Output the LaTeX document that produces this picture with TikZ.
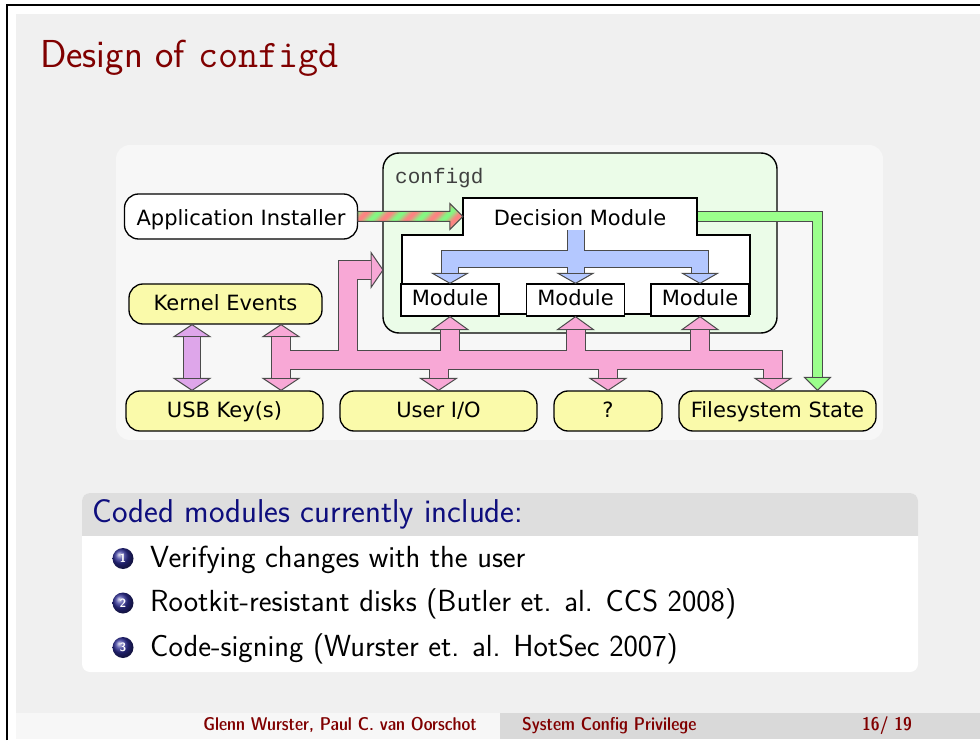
\documentclass[tikz,border=0pt]{standalone}
\usepackage{fontspec}
\newfontfamily\dejavu{DejaVu Sans}
\newfontfamily\cmono{Liberation Mono}
\newfontfamily\footfont{lmsansdemicond10-regular.otf}

\definecolor{slidebg}{RGB}{240,240,240}
\definecolor{footlight}{RGB}{247,247,247}
\definecolor{footdark}{RGB}{217,217,217}
\definecolor{titlered}{RGB}{128,0,0}
\definecolor{blocktitlebg}{RGB}{222,222,222}
\definecolor{blockblue}{RGB}{14,14,125}
\definecolor{ballblue}{RGB}{45,45,150}
\definecolor{diagbg}{RGB}{247,247,247}
\definecolor{cfgfill}{RGB}{235,252,232}
\definecolor{boxyellow}{RGB}{250,250,170}
\definecolor{pinkfat}{RGB}{248,168,214}
\definecolor{bluefat}{RGB}{180,200,255}
\definecolor{purplefat}{RGB}{222,166,234}
\definecolor{greenfat}{RGB}{155,255,140}
\definecolor{stripered}{RGB}{255,130,130}
\definecolor{stripegreen}{RGB}{130,250,130}
\definecolor{fatedge}{RGB}{75,75,75}

\newcommand\fathead[5]{\draw[tipedge, fill=#5, shift={#1}, rotate=#2] (0,0) -- (-#4,#3) -- (-#4,-#3) -- cycle;}

\newcommand\pinknet[1]{%
  \draw[#1, shorten <=12pt, shorten >=12pt] (kernel.south -| kb) -- (usb.north -| kb);
  \draw[#1, shorten >=12pt] (kb) -- (fb) -- (fs.north -| fb);
  \draw[#1, shorten >=12pt] (cb) |- (cfgin);
  \foreach \m in {m1,m2,m3} \draw[#1, shorten >=13pt] (\m.south |- kb) -- (\m.south);
  \foreach \n in {userio,unknown} \draw[#1, shorten >=12pt] (\n.north |- kb) -- (\n.north);
}
\newcommand\bluenet[1]{%
  \draw[#1, shorten >=10pt] (bt) -- (m2.north);
  \draw[#1, shorten <=10pt, shorten >=10pt] (m1.north) |- (bb) -| (m3.north);
}

\begin{document}
\begin{tikzpicture}[x=1pt, y=-1pt]
\tikzstyle{comp} = [rectangle, rounded corners=14pt, draw=black, line width=1.3pt, fill=boxyellow, minimum height=40pt, inner sep=0pt, text height=16pt, text depth=3pt, font=\dejavu\fontsize{21}{25}\selectfont]
\tikzstyle{module} = [rectangle, draw=black, line width=1.3pt, fill=white, minimum width=98pt, minimum height=32pt, inner sep=0pt, text height=16pt, text depth=4pt, font=\dejavu\fontsize{21}{25}\selectfont]
\tikzstyle{cfgbox} = [rectangle, rounded corners=16pt, draw=black, line width=1.4pt, fill=cfgfill, inner sep=0pt]
\tikzstyle{tipedge} = [draw=fatedge, line width=1pt, line join=miter]
\tikzstyle{footer} = [inner sep=0pt, text=titlered, font=\footfont\fontsize{18.5}{18.5}\selectfont]

\useasboundingbox (0,0) rectangle (980,743);
\fill[white] (0,0) rectangle (980,743);
\draw[line width=1.2pt] (7,740) -- (7,5) -- (980,5);
\fill[slidebg] (16,14) rectangle (980,713);
\fill[footlight] (16,713) rectangle (500,739);
\fill[footdark] (500,713) rectangle (980,739);

\node[anchor=base west, inner sep=0pt, text=titlered, font=\sffamily\fontsize{39}{42}\selectfont] (title) at (40,68) {Design of \texttt{configd}};

\fill[white, rounded corners=8pt] (82,493) rectangle (918,672);
\begin{scope}
  \clip (82,493) rectangle (918,535);
  \fill[blocktitlebg, rounded corners=8pt] (82,493) rectangle (918,672);
\end{scope}
\node[anchor=base west, inner sep=0pt, text=blockblue, font=\sffamily\fontsize{33}{36}\selectfont] (blocktitle) at (92,522) {Coded modules currently include:};
\foreach \i/\y/\txt in {1/567/{Verifying changes with the user}, 2/611.5/{Rootkit-resistant disks (Butler et. al. CCS 2008)}, 3/656/{Code-signing (Wurster et. al. HotSec 2007)}} {
  \shade[ball color=ballblue] (123,\y-8.5) circle (10.5pt);
  \node[white, inner sep=0pt, font=\sffamily\bfseries\fontsize{12}{12}\selectfont] (ball\i) at (123,\y-8.5) {\i};
  \node[anchor=base west, inner sep=0pt, font=\sffamily\fontsize{30.5}{34}\selectfont] (item\i) at (150,\y) {\txt};
}

\node[footer, anchor=base east] (authors) at (477,730) {Glenn Wurster, Paul C. van Oorschot};
\node[footer, anchor=base west] (shorttitle) at (522,730) {System Config Privilege};
\node[footer, anchor=base west] (pageno) at (862,730) {16/ 19};

\fill[diagbg, rounded corners=14pt] (116,145) rectangle (883,440);

\node[cfgbox, minimum width=394pt, minimum height=180pt] (cfg) at (580,243) {};
\node[anchor=base west, inner sep=0pt, text=black!75, font=\cmono\fontsize{21}{25}\selectfont] (cfglabel) at (395,184) {configd};

\draw[line width=1.3pt, fill=white] (463,198) -- (697,198) -- (697,235) -- (750,235) -- (750,314) -- (402,314) -- (402,235) -- (463,235) -- cycle;
\node[minimum width=234pt, minimum height=37pt, inner sep=0pt, text height=19pt, text depth=1pt, font=\dejavu\fontsize{21}{25}\selectfont] (dm) at (580,216.5) {Decision Module};
\node[module] (m1) at (450,300) {Module};
\node[module] (m2) at (575.5,300) {Module};
\node[module] (m3) at (700,300) {Module};

\node[comp, fill=white, minimum width=233pt, minimum height=45pt, text height=19pt, text depth=1pt] (appinst) at (241,216.5) {Application Installer};
\node[comp, minimum width=193pt] (kernel) at (225.5,304) {Kernel Events};
\node[comp, minimum width=197pt] (usb) at (224.5,411) {USB Key(s)};
\node[comp, minimum width=197pt] (userio) at (438.5,411) {User I/O};
\node[comp, minimum width=108pt] (unknown) at (608,411) {?};
\node[comp, minimum width=197pt] (fs) at (777.5,411) {Filesystem State};

\coordinate (bt) at (575.5,230);
\coordinate (bb) at (575.5,259);
\bluenet{draw=fatedge, line width=18pt, line join=miter}
\foreach \m in {m1,m2,m3} {\fathead{(\m.north)}{-90}{17.5}{10}{bluefat}}
\bluenet{draw=bluefat, line width=16pt, line join=miter}

\coordinate (kb) at (281,360);
\coordinate (cb) at (348,360);
\coordinate (fb) at (773,360);
\coordinate (cfgin) at (383,270);
\pinknet{draw=fatedge, line width=20pt, line join=miter}
\fathead{(kernel.south -| kb)}{90}{18}{12}{pinkfat}
\fathead{(usb.north -| kb)}{-90}{18}{12}{pinkfat}
\fathead{(fs.north -| fb)}{-90}{18}{12}{pinkfat}
\fathead{(cfgin)}{0}{17.5}{12}{pinkfat}
\foreach \m in {m1,m2,m3} {\fathead{(\m.south)}{90}{18}{13}{pinkfat}}
\foreach \n in {userio,unknown} {\fathead{(\n.north)}{-90}{18}{12}{pinkfat}}
\pinknet{draw=pinkfat, line width=18pt, line join=miter}

\coordinate (pk) at (192,360);
\draw[draw=fatedge, line width=18pt, shorten <=12pt, shorten >=12pt] (kernel.south -| pk) -- (usb.north -| pk);
\fathead{(kernel.south -| pk)}{90}{18}{12}{purplefat}
\fathead{(usb.north -| pk)}{-90}{18}{12}{purplefat}
\draw[draw=purplefat, line width=16pt, shorten <=12pt, shorten >=12pt] (kernel.south -| pk) -- (usb.north -| pk);

\coordinate (gc) at (817.5,216.5);
\draw[draw=fatedge, line width=11pt, line join=miter, shorten <=0.7pt, shorten >=13pt] (dm.east) -- (gc) -- (fs.north -| gc);
\fathead{(fs.north -| gc)}{-90}{13}{13}{greenfat}
\draw[draw=greenfat, line width=9pt, line join=miter, shorten <=0.7pt, shorten >=13pt] (dm.east) -- (gc) -- (fs.north -| gc);

\begin{scope}[shift={(dm.west)}]
  \clip (0,0) -- (-13,-13) -- (-13,-5) -- (-105,-5) -- (-105,5) -- (-13,5) -- (-13,13) -- cycle;
  \foreach \k in {0,...,72} {
    \pgfmathtruncatemacro\mixv{50+50*cos(\k*30)}
    \fill[stripered!\mixv!stripegreen] (-140+2*\k,15) -- (-137.6+2*\k,15) -- (-107.6+2*\k,-15) -- (-110+2*\k,-15) -- cycle;
  }
\end{scope}
\draw[tipedge, shift={(dm.west)}] (0,0) -- (-13,-13) -- (-13,-5) -- (-105,-5) -- (-105,5) -- (-13,5) -- (-13,13) -- cycle;
\end{tikzpicture}
\end{document}
